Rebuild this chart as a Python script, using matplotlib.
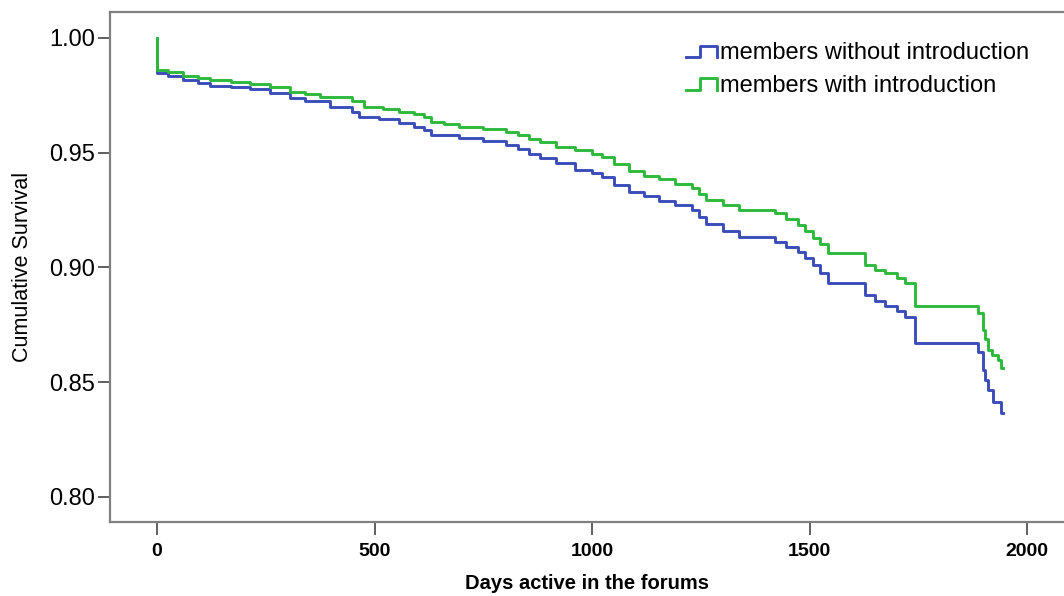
import numpy as np
import matplotlib
matplotlib.use("Agg")
import matplotlib.pyplot as plt
from matplotlib.legend_handler import HandlerBase
from matplotlib.lines import Line2D

plt.rcParams["font.family"] = ["Liberation Sans", "DejaVu Sans"]

# step points (day, cumulative survival)
days_without = [0, 1, 25, 60, 95, 122, 170, 213, 260, 305, 340, 397, 449, 465,
                510, 557, 590, 614, 630, 695, 750, 802, 830, 855, 880, 917, 960,
                1000, 1022, 1050, 1084, 1120, 1153, 1190, 1229, 1245, 1261, 1300,
                1337, 1421, 1445, 1474, 1490, 1509, 1525, 1543, 1628, 1650, 1674,
                1700, 1719, 1742, 1887, 1898, 1904, 1910, 1921, 1940, 1945]
surv_without = [1.000, 0.9846, 0.9835, 0.9817, 0.9805, 0.9792, 0.9785, 0.9776,
                0.9760, 0.9740, 0.9725, 0.9700, 0.9679, 0.9657, 0.9645, 0.9628,
                0.9612, 0.9599, 0.9577, 0.9563, 0.9550, 0.9534, 0.9515, 0.9495,
                0.9478, 0.9455, 0.9425, 0.9410, 0.9396, 0.9360, 0.9330, 0.9310,
                0.9290, 0.9270, 0.9250, 0.9220, 0.9190, 0.9160, 0.9134, 0.9113,
                0.9090, 0.9069, 0.9040, 0.9010, 0.8975, 0.8933, 0.8880, 0.8855,
                0.8830, 0.8810, 0.8786, 0.8671, 0.8633, 0.8553, 0.8510, 0.8466,
                0.8415, 0.8366, 0.8366]

days_with = [0, 1, 25, 60, 95, 122, 170, 213, 260, 305, 340, 374, 449, 477,
             520, 557, 590, 614, 630, 660, 695, 750, 802, 830, 855, 880, 917,
             960, 1000, 1022, 1050, 1084, 1120, 1153, 1190, 1229, 1245, 1261,
             1300, 1337, 1421, 1445, 1474, 1490, 1509, 1525, 1543, 1628, 1650,
             1674, 1700, 1719, 1742, 1887, 1898, 1904, 1910, 1920, 1933, 1940,
             1945]
surv_with = [1.000, 0.9860, 0.9852, 0.9836, 0.9826, 0.9817, 0.9808, 0.9798,
             0.9784, 0.9766, 0.9755, 0.9744, 0.9723, 0.9700, 0.9690, 0.9679,
             0.9668, 0.9657, 0.9635, 0.9624, 0.9614, 0.9603, 0.9592, 0.9575,
             0.9560, 0.9545, 0.9526, 0.9510, 0.9495, 0.9483, 0.9450, 0.9418,
             0.9400, 0.9385, 0.9365, 0.9345, 0.9320, 0.9294, 0.9270, 0.9250,
             0.9237, 0.9210, 0.9185, 0.9160, 0.9130, 0.9100, 0.9063, 0.9011,
             0.8990, 0.8976, 0.8955, 0.8933, 0.8830, 0.8800, 0.8728, 0.8690,
             0.8640, 0.8620, 0.8597, 0.8562, 0.8562]

labels = ["members without introduction", "members with introduction"]
colors = ["#3b4db8", "#2eb83c"]
x_ticks = [0, 500, 1000, 1500, 2000]
y_ticks = [0.80, 0.85, 0.90, 0.95, 1.00]


class StepHandler(HandlerBase):
    def create_artists(self, legend, orig_handle, xdescent, ydescent,
                       width, height, fontsize, trans):
        lo, hi = height * 0.1, height * 0.8
        xs = [0, width * 0.45, width * 0.45, width, width]
        ys = [lo, lo, hi, hi, lo]
        line = Line2D(xs, ys, color=orig_handle.get_color(),
                      linewidth=orig_handle.get_linewidth(), transform=trans)
        return [line]


fig = plt.figure(figsize=(10.64, 5.96), dpi=100)
ax = fig.add_axes([0.1034, 0.1242, 0.8966, 0.8557])

handles = []
for d, s, lab, c in zip([days_without, days_with], [surv_without, surv_with], labels, colors):
    h, = ax.plot(d, s, drawstyle="steps-post", color=c, linewidth=2.1, label=lab)
    handles.append(h)

ax.set_xlim(-108, 2085)
ax.set_ylim(0.7891, 1.0113)
ax.set_xticks(x_ticks)
ax.set_xticklabels([str(t) for t in x_ticks], fontsize=14, fontweight="bold")
ax.set_yticks(y_ticks)
ax.set_yticklabels([f"{t:.2f}" for t in y_ticks], fontsize=17)

for side in ["left", "bottom", "top"]:
    ax.spines[side].set_color("#808080")
    ax.spines[side].set_linewidth(1.6)
ax.spines["right"].set_visible(False)
ax.tick_params(axis="both", direction="out", length=9, width=1.4, color="#606060")
ax.tick_params(axis="y", pad=2)
ax.tick_params(axis="x", pad=6)

ax.set_xlabel("Days active in the forums", fontsize=14.5, fontweight="bold", labelpad=10)
fig.text(0.021, 1 - 267 / 596, "Cumulative Survival", rotation=90,
         fontsize=15.5, ha="center", va="center")

fig.legend(handles=handles, labels=labels, loc="upper left",
           bbox_to_anchor=(686 / 1064, 1 - 42 / 596), frameon=False,
           fontsize=17, handler_map={Line2D: StepHandler()},
           handlelength=1.3, handletextpad=0.15, labelspacing=0.45,
           borderpad=0, borderaxespad=0)

fig.savefig("out.png", dpi=100)
